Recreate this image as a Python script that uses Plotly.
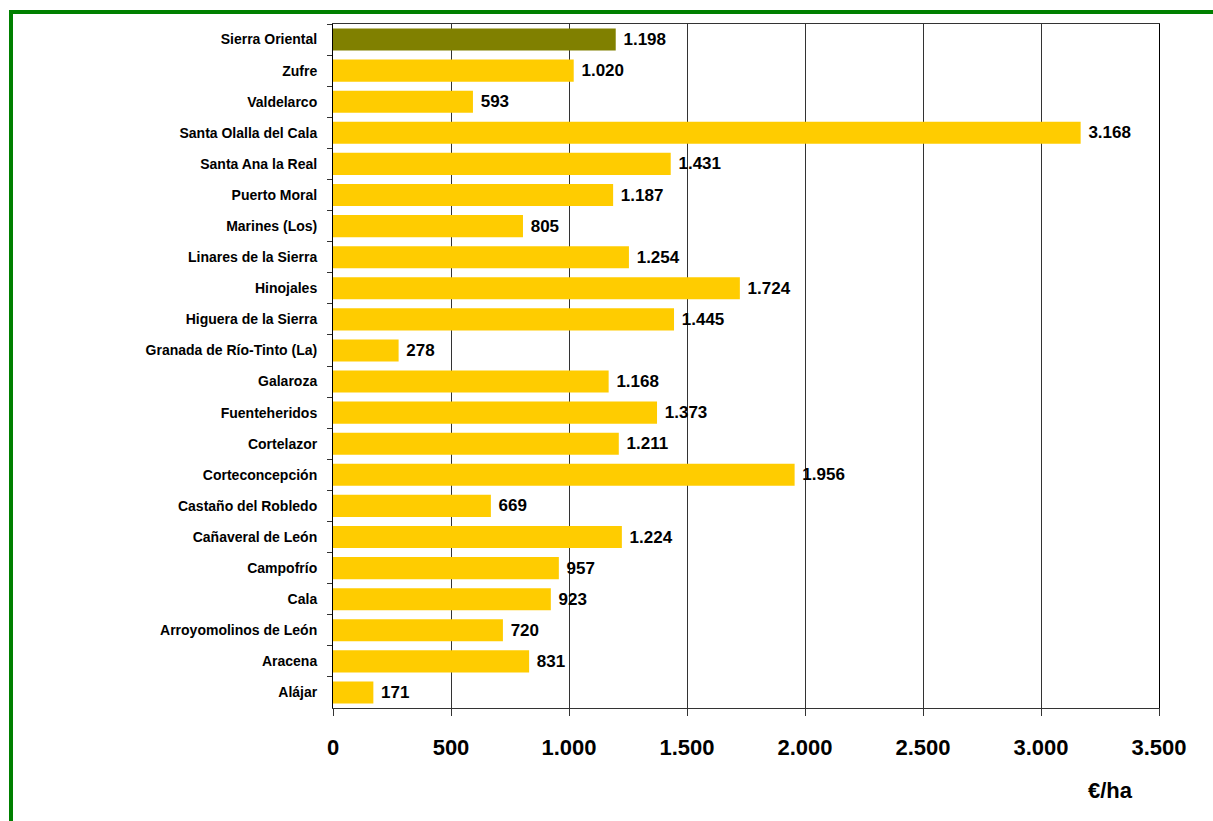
import plotly.graph_objects as go

municipios = [
    "Sierra Oriental", "Zufre", "Valdelarco", "Santa Olalla del Cala",
    "Santa Ana la Real", "Puerto Moral", "Marines (Los)", "Linares de la Sierra",
    "Hinojales", "Higuera de la Sierra", "Granada de Río-Tinto (La)", "Galaroza",
    "Fuenteheridos", "Cortelazor", "Corteconcepción", "Castaño del Robledo",
    "Cañaveral de León", "Campofrío", "Cala", "Arroyomolinos de León",
    "Aracena", "Alájar",
]
valores = [
    1198, 1020, 593, 3168, 1431, 1187, 805, 1254, 1724, 1445, 278,
    1168, 1373, 1211, 1956, 669, 1224, 957, 923, 720, 831, 171,
]
x_ticks = [0, 500, 1000, 1500, 2000, 2500, 3000, 3500]

colores = ["#808000" if m == "Sierra Oriental" else "#FFCC00" for m in municipios]

W, H = 1213, 821
L, R, T, B = 333, 54, 24, 113
pw, ph = W - L - R, H - T - B

FONT = "Liberation Sans, Arial, sans-serif"

fig = go.Figure(go.Bar(
    x=valores, y=municipios, orientation="h",
    marker=dict(color=colores, line=dict(width=0)),
    width=0.71,
    texttemplate="\u00a0%{x:,d}", textposition="outside",
    textfont=dict(family=FONT, size=17, color="#000000", weight="bold"),
    cliponaxis=False, constraintext="none",
))

def px_x(p):
    return (p - L) / pw

def px_y(p):
    return (H - B - p) / ph

fig.update_layout(
    width=W, height=H,
    margin=dict(l=L, r=R, t=T, b=B),
    paper_bgcolor="white", plot_bgcolor="white",
    separators=",.",
    showlegend=False,
    font=dict(family=FONT, color="#000000"),
    xaxis=dict(
        range=[0, 3500], tickvals=x_ticks, tickformat=",d",
        showgrid=True, gridcolor="#333333", gridwidth=1,
        showline=True, linecolor="#333333", linewidth=1, mirror=True,
        ticks="outside", ticklen=7, tickcolor="#333333",
        tickfont=dict(size=22, family=FONT, weight="bold"),
        ticklabelstandoff=13, zeroline=False,
    ),
    yaxis=dict(
        autorange="reversed",
        showline=True, linecolor="#000000", linewidth=1, mirror=True,
        ticks="outside", ticklen=5, tickcolor="#333333", tickson="boundaries",
        tickfont=dict(size=14, family=FONT, weight="bold"),
        ticklabelstandoff=12, showgrid=False,
    ),
    annotations=[dict(
        text="<b>€/ha</b>", xref="paper", yref="paper",
        x=px_x(1110), y=px_y(791), xanchor="center", yanchor="middle",
        showarrow=False,
        font=dict(size=22, family=FONT, color="#000000"),
    )],
    shapes=[dict(
        type="rect", xref="paper", yref="paper",
        x0=px_x(11), x1=px_x(1240), y0=px_y(850), y1=px_y(12),
        line=dict(color="#008000", width=4), fillcolor="rgba(0,0,0,0)", layer="above",
    )],
)

fig.write_html(
    "out.html",
    config={"displayModeBar": False},
    post_script="document.body.style.margin='0';document.body.style.overflow='hidden';",
)
